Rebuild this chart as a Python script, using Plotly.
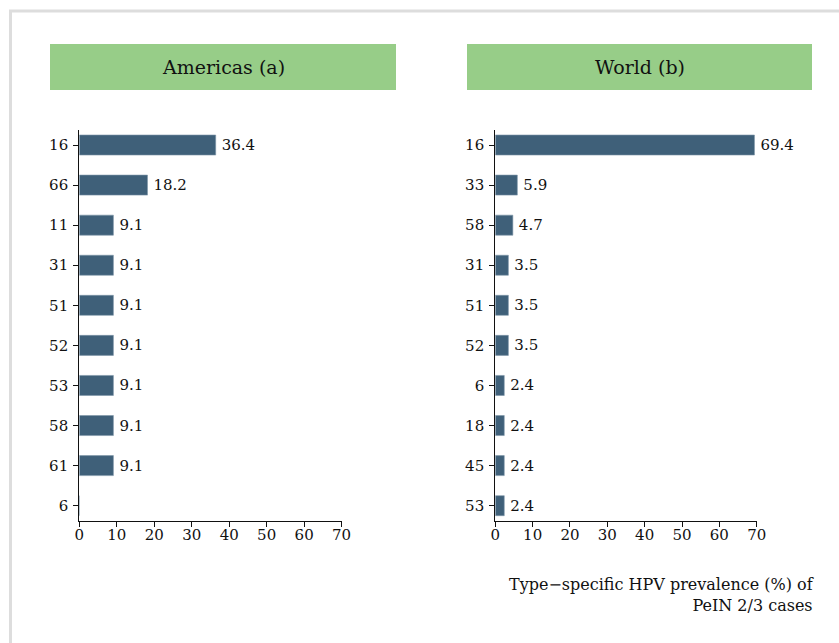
import plotly.graph_objects as go

W, H = 839, 643

americas_types = ["16", "66", "11", "31", "51", "52", "53", "58", "61", "6"]
americas_values = [36.4, 18.2, 9.1, 9.1, 9.1, 9.1, 9.1, 9.1, 9.1, 0]
americas_labels = ["36.4", "18.2", "9.1", "9.1", "9.1", "9.1", "9.1", "9.1", "9.1", ""]

world_types = ["16", "33", "58", "31", "51", "52", "6", "18", "45", "53"]
world_values = [69.4, 5.9, 4.7, 3.5, 3.5, 3.5, 2.4, 2.4, 2.4, 2.4]
world_labels = ["69.4", "5.9", "4.7", "3.5", "3.5", "3.5", "2.4", "2.4", "2.4", "2.4"]

x_ticks = [0, 10, 20, 30, 40, 50, 60, 70]
panel_titles = ["Americas (a)", "World (b)"]
caption = "Type\u2212specific HPV prevalence (%) of<br>PeIN 2/3 cases"

FONT = "DejaVu Serif"
BAR = "#3f6079"
GREEN = "#97cd88"


def px(x):
    return x / W


def py(y):
    return 1 - y / H


def pad(labels):
    return ["\u2009" + s if s else s for s in labels]


fig = go.Figure()
fig.add_trace(go.Bar(
    y=americas_types, x=americas_values, orientation="h", width=0.5,
    marker=dict(color=BAR, line=dict(color="#7d95a8", width=0.6)),
    text=pad(americas_labels), textposition="outside", cliponaxis=False,
    textfont=dict(family=FONT, size=15, color="#111"),
    xaxis="x", yaxis="y", showlegend=False))
fig.add_trace(go.Bar(
    y=world_types, x=world_values, orientation="h", width=0.5,
    marker=dict(color=BAR, line=dict(color="#7d95a8", width=0.6)),
    text=pad(world_labels), textposition="outside", cliponaxis=False,
    textfont=dict(family=FONT, size=15, color="#111"),
    xaxis="x2", yaxis="y2", showlegend=False))

ydom = [py(520.7), py(130)]
axis_common = dict(showgrid=False, zeroline=False, showline=True, linecolor="#111",
                   linewidth=1.2, ticks="outside", ticklen=5, tickcolor="#111",
                   automargin=False,
                   tickfont=dict(family=FONT, size=15, color="#111"))
fig.update_layout(
    width=W, height=H, margin=dict(l=0, r=0, t=0, b=0, pad=0, autoexpand=False),
    autosize=False, showlegend=False,
    paper_bgcolor="white", plot_bgcolor="white",
    font=dict(family=FONT, color="#111"),
    xaxis=dict(domain=[px(79.3), px(341.6)], range=[0, 70], tickvals=x_ticks,
               anchor="y", ticklabelstandoff=-5, **axis_common),
    yaxis=dict(domain=ydom, range=[9.375, -0.375], type="category",
               categoryorder="array", categoryarray=americas_types,
               anchor="x", ticklabelstandoff=2, **axis_common),
    xaxis2=dict(domain=[px(495.3), px(756.7)], range=[0, 70], tickvals=x_ticks,
                anchor="y2", ticklabelstandoff=-5, **axis_common),
    yaxis2=dict(domain=ydom, range=[9.375, -0.375], type="category",
                categoryorder="array", categoryarray=world_types,
                anchor="x2", ticklabelstandoff=2, **axis_common),
)

shapes = [
    dict(type="rect", xref="paper", yref="paper",
         x0=px(10.5), x1=px(900), y0=py(11), y1=py(700),
         line=dict(color="#dddddd", width=3), fillcolor="rgba(0,0,0,0)", layer="below"),
    dict(type="rect", xref="paper", yref="paper",
         x0=px(50), x1=px(396), y0=py(90), y1=py(44),
         line=dict(width=0), fillcolor=GREEN, layer="below"),
    dict(type="rect", xref="paper", yref="paper",
         x0=px(467), x1=px(812), y0=py(90), y1=py(44),
         line=dict(width=0), fillcolor=GREEN, layer="below"),
]
fig.update_layout(shapes=shapes)

annotations = [
    dict(text=panel_titles[0], x=px(223), y=py(67), xref="paper", yref="paper",
         showarrow=False, xanchor="center", yanchor="middle",
         font=dict(family=FONT, size=19, color="#111")),
    dict(text=panel_titles[1], x=px(639.5), y=py(67), xref="paper", yref="paper",
         showarrow=False, xanchor="center", yanchor="middle",
         font=dict(family=FONT, size=19, color="#111")),
    dict(text=caption, x=px(816), y=py(595), xref="paper", yref="paper",
         showarrow=False, xanchor="right", yanchor="middle", align="right",
         font=dict(family=FONT, size=16, color="#111")),
]
fig.update_layout(annotations=annotations)

fig.write_html("out.html",
               config={"displayModeBar": False, "responsive": False},
               post_script="document.body.style.margin='0';document.body.style.overflow='hidden';")
